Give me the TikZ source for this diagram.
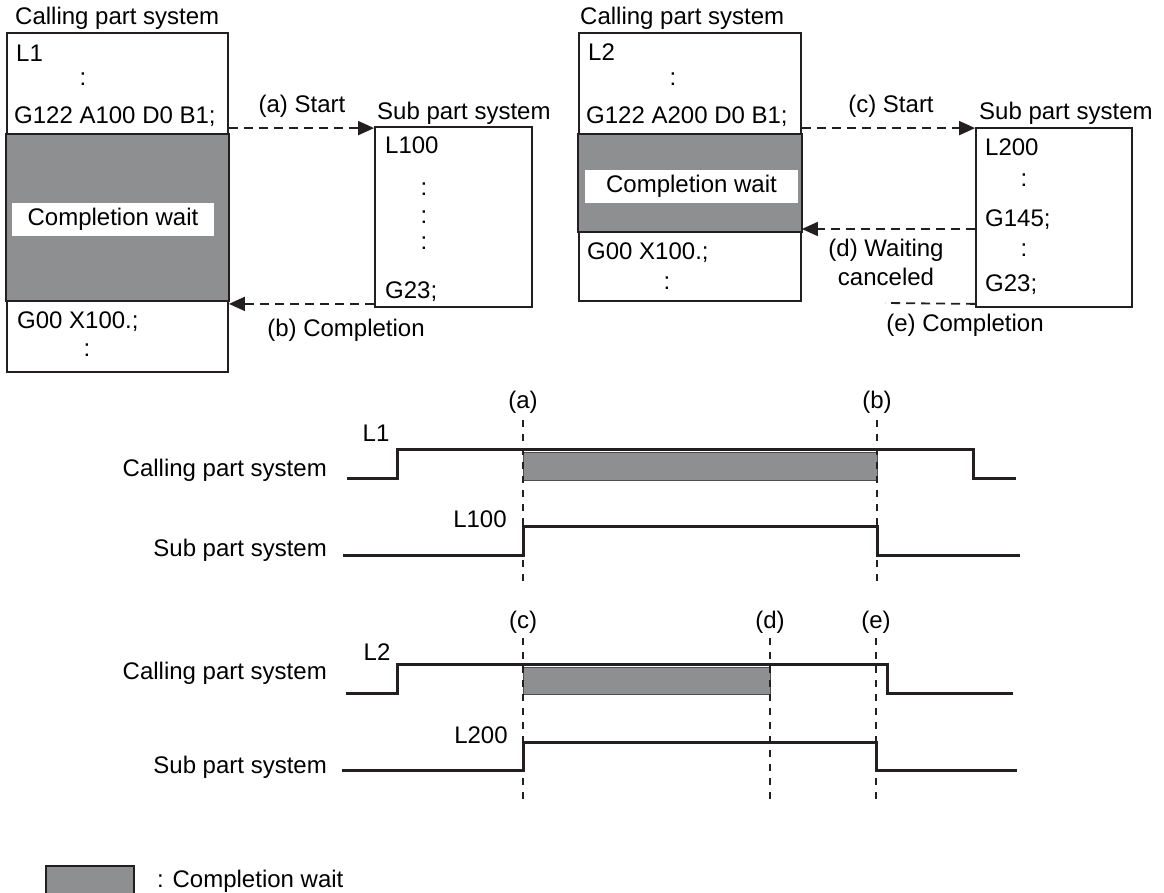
\documentclass[tikz,border=0pt]{standalone}
\usepackage{fontspec}
\setmainfont{Liberation Sans}
\usetikzlibrary{arrows.meta,positioning}
\definecolor{waitgray}{RGB}{142,143,145}
\definecolor{inkdark}{RGB}{35,31,32}

\begin{document}
\begin{tikzpicture}[
    x=1pt, y=-1pt,
    font=\fontsize{24}{29}\selectfont,
    codebox/.style={rectangle, draw=inkdark, line width=1.8pt, inner sep=0pt},
    waitband/.style={draw=inkdark, line width=1.8pt, fill=waitgray},
    waitlabel/.style={fill=white, inner sep=0pt, minimum height=33pt},
    txt/.style={inner sep=0pt, anchor=west},
    dots/.style={inner sep=0pt},
    flow/.style={-{Triangle[length=16pt,width=14pt]}, dash pattern=on 9pt off 6pt,
                 line width=1.8pt, inkdark},
    flowline/.style={dash pattern=on 9pt off 6pt, line width=1.8pt, inkdark},
    signal/.style={line width=3pt, inkdark},
    guide/.style={dash pattern=on 7pt off 7pt, line width=1.6pt, inkdark},
    waitbar/.style={fill=waitgray, draw=inkdark!80, line width=0.8pt}
]
\useasboundingbox (0,0) rectangle (1164,893);
\fill[white] (0,0) rectangle (1164,893);

% left pair of programs
\node[txt] (title1) at (15,18) {Calling part system};
\node[codebox, minimum width=221pt, minimum height=339pt] (call1) at (117.5,202.5) {};
\draw[waitband] (call1.west |- 0,134) rectangle (call1.east |- 0,301);
\node[waitlabel, minimum width=202pt] (wait1) at (113,219.5) {Completion wait};
\node[txt] (l1) at (16,53) {L1};
\node[dots] (dl1) at (83,79) {:};
\node[txt] (g122a) at (14,117) {G122 A100 D0 B1;};
\node[txt] (g00a) at (17,322) {G00 X100.;};
\node[dots] (dl2) at (87,350) {:};

\node[txt] (subt1) at (377,113) {Sub part system};
\node[codebox, minimum width=157pt, minimum height=180pt] (sub1) at (453.5,217) {};
\node[txt] (l100) at (385,145) {L100};
\node[dots] (ds1) at (424,189) {:};
\node[dots] (ds2) at (424,217) {:};
\node[dots] (ds3) at (424,243) {:};
\node[txt] (g23a) at (385,292) {G23;};

\coordinate (sa) at ([yshift=-2pt]sub1.north west);
\draw[flow] (call1.east |- sa) -- (sa);
\node (starta) at (302,106) {(a) Start};
\coordinate (cb) at ([yshift=4pt]sub1.south west);
\draw[flow] (cb) -- (call1.east |- cb);
\node (compb) at (346,330) {(b) Completion};

% right pair of programs
\node[txt] (title2) at (580,18) {Calling part system};
\node[codebox, minimum width=222pt, minimum height=268pt] (call2) at (690,167) {};
\draw[waitband] (call2.west |- 0,134) rectangle (call2.east |- 0,232);
\node[waitlabel, minimum width=213pt] (wait2) at (691.5,186.5) {Completion wait};
\node[txt] (l2) at (588,52) {L2};
\node[dots] (dr1) at (673,79) {:};
\node[txt] (g122b) at (586,117) {G122 A200 D0 B1;};
\node[txt] (g00b) at (587,253) {G00 X100.;};
\node[dots] (dr2) at (667,283) {:};

\node[txt] (subt2) at (979,113) {Sub part system};
\node[codebox, minimum width=156pt, minimum height=179pt] (sub2) at (1054,217.5) {};
\node[txt] (l200) at (985,147) {L200};
\node[dots] (dt1) at (1024,180) {:};
\node[txt] (g145) at (985,220) {G145;};
\node[dots] (dt2) at (1024,250) {:};
\node[txt] (g23b) at (985,285) {G23;};

\coordinate (sc) at ([yshift=-1pt]sub2.north west);
\draw[flow] (call2.east |- sc) -- (sc);
\node (startc) at (891,106) {(c) Start};
\coordinate (wd) at ([yshift=-11.5pt]sub2.west);
\draw[flow] (wd) -- (call2.east |- wd);
\node[align=center] (waitd) at (886,262.5) {(d) Waiting\\canceled};
\coordinate (ce) at ([yshift=4pt]sub2.south west);
\coordinate (e0) at (885,303);
\draw[flowline] (ce) -- (e0);
\node (compe) at (965,325) {(e) Completion};

% timing chart 1
\node[txt, anchor=east] (cps1) at (327,470) {Calling part system};
\node[txt, anchor=east] (sps1) at (327,550) {Sub part system};
\node (ta) at (523,402) {(a)};
\node (tb) at (877,402) {(b)};
\draw[waitbar] (ta |- 0,452) rectangle (tb |- 0,480);
\draw[guide] (ta |- 0,420) -- (ta |- 0,582);
\draw[guide] (tb |- 0,420) -- (tb |- 0,582);
\draw[signal] (347,478) -- (397,478) -- (397,449) -- (973,449) -- (973,478) -- (1016,478);
\draw[signal] (343,555) -- (ta |- 0,555) -- (ta |- 0,526) -- (tb |- 0,526) -- (tb |- 0,555) -- (1020,555);
\node (sl1) at (376,433) {L1};
\node (sl100) at (480,519) {L100};

% timing chart 2
\node[txt, anchor=east] (cps2) at (327,673) {Calling part system};
\node[txt, anchor=east] (sps2) at (327,767) {Sub part system};
\node (tc) at (523,622) {(c)};
\node (td) at (770,622) {(d)};
\node (te) at (876,622) {(e)};
\draw[waitbar] (tc |- 0,667) rectangle (td |- 0,694);
\draw[guide] (tc |- 0,638) -- (tc |- 0,802);
\draw[guide] (td |- 0,638) -- (td |- 0,802);
\draw[guide] (te |- 0,638) -- (te |- 0,802);
\draw[signal] (346,693) -- (397,693) -- (397,664) -- (887,664) -- (887,693) -- (1013,693);
\draw[signal] (342,770) -- (tc |- 0,770) -- (tc |- 0,742) -- (te |- 0,742) -- (te |- 0,770) -- (1017,770);
\node (sl2) at (377,652) {L2};
\node (sl200) at (481,735) {L200};

% legend
\node[rectangle, draw=inkdark, line width=1.8pt, fill=waitgray,
      minimum width=88pt, minimum height=30pt] (key) at (90,881) {};
\node[right=22pt of key, inner sep=0pt] (keytxt) {: Completion wait};
\end{tikzpicture}
\end{document}
